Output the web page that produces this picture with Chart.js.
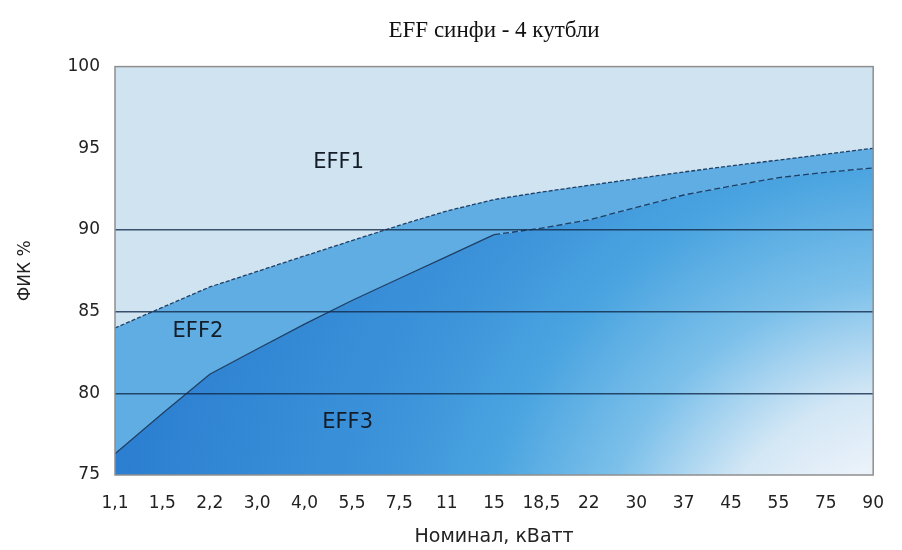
<!DOCTYPE html>
<html>
<head>
<meta charset="utf-8">
<script src="https://cdn.jsdelivr.net/npm/chart.js@4.4.1/dist/chart.umd.min.js"></script>
<style>
  body { margin: 0; background: #fff; }
  #wrap { width: 902px; height: 550px; }
</style>
</head>
<body>
<div id="wrap"><canvas id="effChart"></canvas></div>
<script>
// rated power, kW (x axis categories)
const ratings = ["1,1", "1,5", "2,2", "3,0", "4,0", "5,5", "7,5", "11", "15", "18,5", "22", "30", "37", "45", "55", "75", "90"];
// efficiency boundary EFF1 / EFF2, %
const eff1Limit = [84.0, 85.26, 86.51, 87.46, 88.41, 89.35, 90.28, 91.16, 91.86, 92.32, 92.73, 93.14, 93.55, 93.92, 94.28, 94.64, 95.0];
// efficiency boundary EFF2 / EFF3, %
const eff2Limit = [76.3, 78.77, 81.17, 82.71, 84.24, 85.68, 87.03, 88.37, 89.71, 90.11, 90.62, 91.38, 92.14, 92.69, 93.2, 93.53, 93.8];
const gridLevels = [80, 85, 90];
const yMin = 75, yMax = 100, yStep = 5;

const lineColor = "#1e3f66";

const eff3Fill = (context) => {
  const area = context.chart.chartArea;
  if (!area) return "#3a8fd8";
  const g = context.chart.ctx.createRadialGradient(area.right + 50, area.bottom + 145, 0, area.right + 50, area.bottom + 145, 830);
  g.addColorStop(0, "#f4f8fc");
  g.addColorStop(0.18, "#eef3fa");
  g.addColorStop(0.28, "#d3e7f5");
  g.addColorStop(0.41, "#7cc0ea");
  g.addColorStop(0.55, "#4aa4e0");
  g.addColorStop(0.67, "#3d94da");
  g.addColorStop(1, "#2b7ed0");
  return g;
};

// light blue area above the EFF1 limit, frame and class labels
const areaPlugin = {
  id: "areaPlugin",
  beforeDatasetsDraw(chart) {
    const { ctx, chartArea: a } = chart;
    ctx.save();
    ctx.fillStyle = "#cfe3f1";
    ctx.fillRect(a.left, a.top, a.right - a.left, a.bottom - a.top);
    ctx.restore();
  },
  afterDraw(chart) {
    const { ctx, chartArea: a, scales } = chart;
    ctx.save();
    ctx.strokeStyle = "#8f8f8f";
    ctx.lineWidth = 1.5;
    ctx.strokeRect(a.left, a.top, a.right - a.left, a.bottom - a.top);

    ctx.fillStyle = "#141c28";
    ctx.font = "21px 'DejaVu Sans'";
    ctx.textAlign = "center";
    ctx.textBaseline = "middle";
    const labels = [
      { text: "EFF1", x: 4.72, y: 94.12 },
      { text: "EFF2", x: 1.75, y: 83.76 },
      { text: "EFF3", x: 4.91, y: 78.19 },
    ];
    labels.forEach((l) => {
      ctx.fillText(l.text, scales.x.getPixelForValue(l.x), scales.y.getPixelForValue(l.y));
    });
    ctx.restore();
  },
};

new Chart(document.getElementById("effChart"), {
  type: "line",
  data: {
    labels: ratings,
    datasets: [
      {
        label: "EFF3",
        data: eff2Limit,
        borderWidth: 0,
        borderColor: "rgba(0,0,0,0)",
        pointRadius: 0,
        tension: 0,
        fill: "start",
        backgroundColor: eff3Fill,
        order: 2,
      },
      {
        label: "EFF1/EFF2",
        data: eff1Limit,
        borderColor: lineColor,
        borderWidth: 1.3,
        borderDash: [4, 2],
        pointRadius: 0,
        tension: 0,
        fill: "-1",
        backgroundColor: "#5fade2",
        order: 1,
      },
      {
        label: "EFF2/EFF3",
        data: eff2Limit,
        borderColor: lineColor,
        borderWidth: 1.3,
        pointRadius: 0,
        tension: 0,
        fill: false,
        order: 0,
        segment: {
          borderDash: (ctx) => (ctx.p0DataIndex >= 8 ? [6, 3] : undefined),
        },
      },
    ],
  },
  options: {
    responsive: true,
    maintainAspectRatio: false,
    animation: false,
    layout: { padding: { left: 0, right: 21, top: 0, bottom: 0 } },
    plugins: {
      legend: { display: false },
      tooltip: { enabled: false },
      title: {
        display: true,
        text: "EFF синфи - 4 кутбли",
        fullSize: false,
        color: "#111",
        font: { family: "'Liberation Serif'", size: 23, weight: "normal" },
        padding: { top: 17, bottom: 22 },
      },
    },
    scales: {
      x: {
        grid: { display: false, drawTicks: false },
        border: { display: false },
        ticks: {
          color: "#222",
          font: { family: "'DejaVu Sans'", size: 17 },
          padding: 18,
          maxRotation: 0,
          autoSkip: false,
        },
        title: {
          display: true,
          text: "Номинал, кВатт",
          color: "#222",
          font: { family: "'DejaVu Sans'", size: 19 },
          padding: { top: 8, bottom: 2 },
        },
        afterFit: (axis) => {
          axis.height = 75;
        },
      },
      y: {
        min: yMin,
        max: yMax,
        grid: {
          z: 1,
          drawTicks: false,
          lineWidth: 1.5,
          color: (ctx) => (ctx.tick && gridLevels.includes(ctx.tick.value) ? "rgba(18,42,75,0.8)" : "rgba(0,0,0,0)"),
        },
        border: { display: false },
        ticks: {
          stepSize: yStep,
          color: "#222",
          font: { family: "'DejaVu Sans'", size: 17 },
          padding: 15,
        },
        title: {
          display: true,
          text: "ФИК %",
          color: "#222",
          font: { family: "'DejaVu Sans'", size: 17 },
          padding: { top: 15, bottom: 0 },
        },
        afterFit: (axis) => {
          axis.width = 115;
        },
      },
    },
  },
  plugins: [areaPlugin],
});
</script>
</body>
</html>
